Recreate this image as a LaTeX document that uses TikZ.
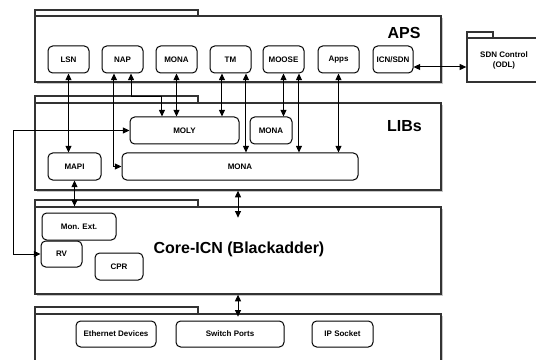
\documentclass[tikz,border=0pt]{standalone}
\usepackage{fontspec}
\setmainfont{Liberation Sans}
\usetikzlibrary{arrows.meta}

\tikzset{
  comp/.style={draw, line width=0.75pt, rounded corners=3.5pt, fill=white, minimum height=20.25pt, inner sep=0pt, align=center, font=\fontsize{6}{7}\selectfont\bfseries},
  pkg/.style={draw=black!80, line width=1pt, fill=white, inner sep=0pt},
  pkgshadow/.style={fill=black!22},
  link/.style={line width=0.75pt, {Triangle[length=5pt,width=4.5pt]}-{Triangle[length=5pt,width=4.5pt]}},
  title/.style={inner sep=0pt, font=\fontsize{12}{14}\selectfont\bfseries}
}

\begin{document}
\begin{tikzpicture}[x=0.75pt,y=0.75pt,yscale=-1,xscale=1]
    \useasboundingbox (0,0) rectangle (536,360);
    \clip (0,0) rectangle (536,360);
    \fill [white] (0,0) rectangle (536,360);

    %Package: APS
    \fill [pkgshadow] (37,18) rectangle (443,84);
    \draw [pkg] (35,10) rectangle (198,16);
    \draw (238,49) node (aps) [pkg, minimum width=304.5pt, minimum height=49.5pt] {};
    %Package: LIBs
    \fill [pkgshadow] (37,105) rectangle (443,192);
    \draw [pkg] (35,96) rectangle (198,103);
    \draw (238,146.5) node (libs) [pkg, minimum width=304.5pt, minimum height=65.25pt] {};
    %Package: Core-ICN
    \fill [pkgshadow] (37,209) rectangle (443,296);
    \draw [pkg] (35,200) rectangle (198,207);
    \draw (238,250.5) node (core) [pkg, minimum width=304.5pt, minimum height=65.25pt] {};
    %Package: devices
    \fill [pkgshadow] (37,316) rectangle (443,386);
    \draw [pkg] (35,307) rectangle (198,314);
    \draw (238,349) node (dev) [pkg, minimum width=304.5pt, minimum height=52.5pt] {};
    %Package: SDN Control
    \fill [pkgshadow] (468.5,39.5) rectangle (542.5,83.5);
    \draw [pkg] (467,32) rectangle (493,38);
    \draw (504,60) node (sdn) [pkg, minimum width=55.5pt, minimum height=33pt, align=center, font=\fontsize{6}{7.5}\selectfont\bfseries] {SDN Control\\(ODL)};

    % Text Node
    \draw (404,32.5) node [title] {APS};
    % Text Node
    \draw (404.5,126) node [title] {LIBs};
    % Text Node
    \draw (239,249) node [title] {Core-ICN (Blackadder)};

    %Applications
    \draw (68.5,59.5) node (lsn) [comp, minimum width=30.75pt] {LSN};
    \draw (122.5,59.5) node (nap) [comp, minimum width=30.75pt] {NAP};
    \draw (176.5,59.5) node (mona) [comp, minimum width=30.75pt] {MONA};
    \draw (230.5,59.5) node (tm) [comp, minimum width=30.75pt] {TM};
    \draw (283.5,59.5) node (moose) [comp, minimum width=30.75pt] {MOOSE};
    \draw (338.5,59.5) node (apps) [comp, minimum width=30.75pt] {Apps};
    \draw (393,59.5) node (icnsdn) [comp, minimum width=30pt] {ICN/SDN};

    %Libraries
    \draw (184.5,130.5) node (moly) [comp, minimum width=81.75pt] {MOLY};
    \draw (271,130.5) node (libmona) [comp, minimum width=31.5pt] {MONA};
    \draw (74.5,166.5) node (mapi) [comp, minimum width=39.75pt] {MAPI};
    \draw (240,166.5) node (bigmona) [comp, minimum width=177pt] {MONA};

    %Core-ICN parts
    \draw (79,226.5) node (monext) [comp, minimum width=55.5pt] {Mon. Ext.};
    \draw (61.5,254) node (rv) [comp, minimum width=30.75pt, minimum height=19.5pt] {RV};
    \draw (119,266.5) node (cpr) [comp, minimum width=36pt] {CPR};

    %Devices
    \draw (116,334) node (eth) [comp, minimum width=60pt, minimum height=19.5pt] {Ethernet Devices};
    \draw (230,334) node (sw) [comp, minimum width=81pt, minimum height=19.5pt] {Switch Ports};
    \draw (342.5,334) node (ip) [comp, minimum width=45.75pt, minimum height=19.5pt] {IP Socket};

    %Connectors
    \coordinate (sdnport) at (467,67);
    \draw [link] (lsn.south) -- (lsn.south |- mapi.north);
    \draw [link] ([xshift=-6.4pt]nap.south) |- (bigmona.west);
    \draw [link] ([xshift=6.4pt]nap.south) -- ++(0,23) -| ([xshift=-16.9pt]moly.north);
    \draw [link] (mona.south) -- (mona.south |- moly.north);
    \draw [link] ([xshift=-6.4pt]tm.south) -- ([xshift=-6.4pt]tm.south |- moly.north);
    \draw [link] ([xshift=11.6pt]tm.south) -- ([xshift=11.6pt]tm.south |- bigmona.north);
    \draw [link] (moose.south) -- (moose.south |- libmona.north);
    \draw [link] ([xshift=11.6pt]moose.south) -- ([xshift=11.6pt]moose.south |- bigmona.north);
    \draw [link] (apps.south) -- (apps.south |- bigmona.north);
    \draw [link] (icnsdn.east |- sdnport) -- (sdn.west |- sdnport);
    \draw [link] (rv.west) -- ++(-27,0) |- (moly.west);
    \draw [link] (mapi.south) -- (mapi.south |- core.north);
    \draw [link] (libs.south) -- ++(0,27);
    \draw [link] (core.south) -- ++(0,22);

\end{tikzpicture}
\end{document}
